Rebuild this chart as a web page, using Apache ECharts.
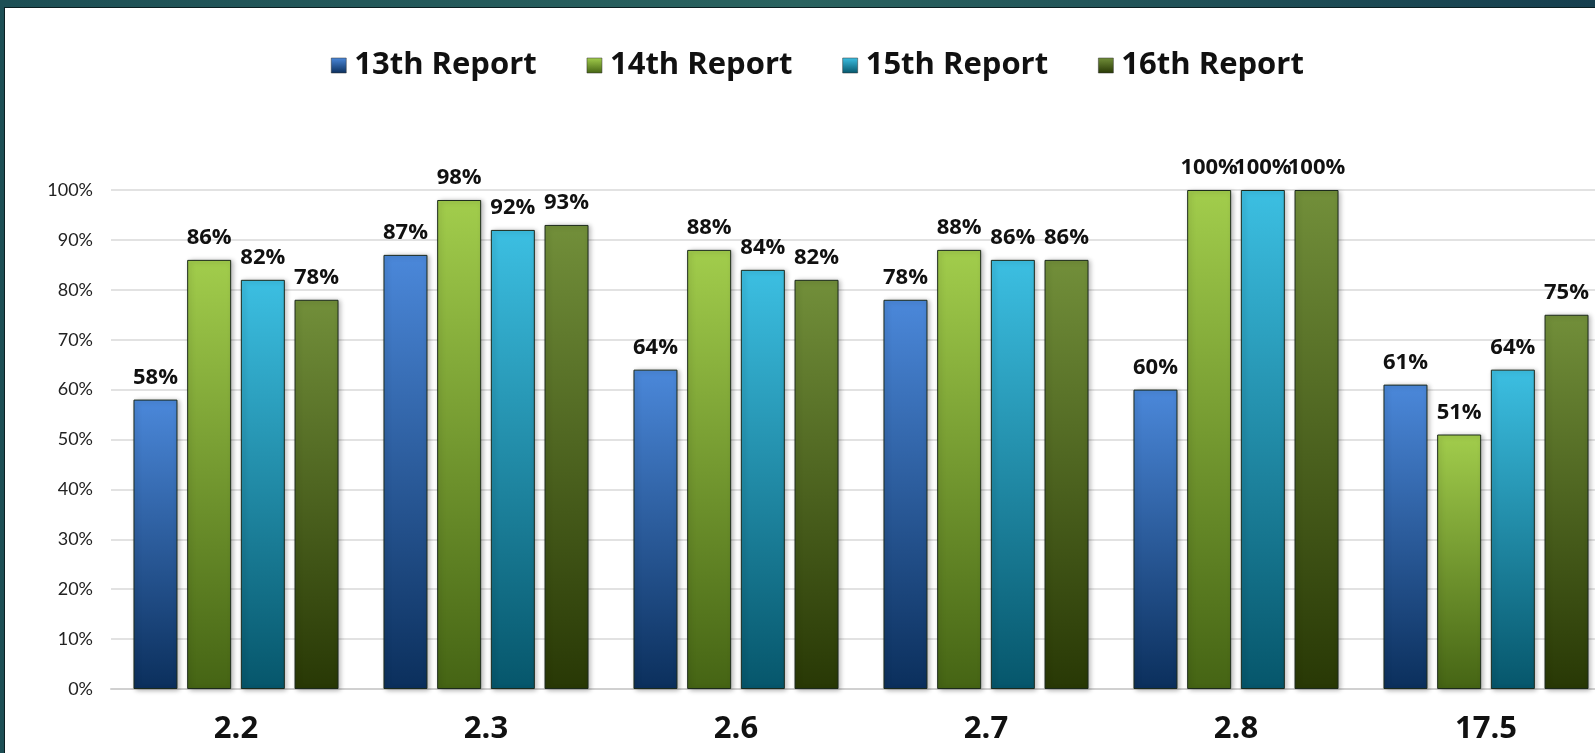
<!DOCTYPE html>
<html>
<head>
<meta charset="utf-8">
<script src="https://cdn.jsdelivr.net/npm/echarts@6/dist/echarts.min.js"></script>
<style>
  * { margin: 0; padding: 0; }
  body {
    width: 1595px; height: 753px; overflow: hidden;
    background: linear-gradient(90deg, #1d4f55 0%, #2a6360 50%, #163f4f 100%);
    position: relative;
  }
  #main {
    position: absolute; left: 4px; top: 7px;
    width: 1591px; height: 746px;
    background: #fff;
    border-top: 1px solid #0b1f22;
    border-left: 1px solid #0b1f22;
    box-sizing: border-box;
  }
</style>
</head>
<body>
<!-- chart container -->
<div id="main"></div>
<script>
var categories = ["2.2", "2.3", "2.6", "2.7", "2.8", "17.5"];
var seriesNames = ["13th Report", "14th Report", "15th Report", "16th Report"];
var report13 = [58, 87, 64, 78, 60, 61];
var report14 = [86, 98, 88, 88, 100, 51];
var report15 = [82, 92, 84, 86, 100, 64];
var report16 = [78, 93, 82, 86, 100, 75];
var yTicks = [0, 10, 20, 30, 40, 50, 60, 70, 80, 90, 100];

// top / bottom colours of each bar gradient
var barColors = [
  ["#4b88da", "#0b2f5c"],
  ["#a2cd4c", "#456414"],
  ["#3cbfe2", "#06566b"],
  ["#728f3a", "#283805"]
];
var seriesData = [report13, report14, report15, report16];

function grad(c) {
  return new echarts.graphic.LinearGradient(0, 0, 0, 1, [
    { offset: 0, color: c[0] },
    { offset: 1, color: c[1] }
  ]);
}

var chart = echarts.init(document.getElementById("main"));
var font = "'Open Sans', 'Noto Sans', sans-serif";

var series = [];
for (var i = 0; i < seriesData.length; i++) {
  series.push({
    name: seriesNames[i],
    type: "bar",
    data: seriesData[i],
    barWidth: 44,
    barGap: "22%",
    itemStyle: {
      color: grad(barColors[i]),
      borderColor: "#1c2a1c",
      borderWidth: 1,
      shadowColor: "rgba(0,0,0,0.3)",
      shadowBlur: 5,
      shadowOffsetX: 2,
      shadowOffsetY: 1
    },
    label: {
      show: true,
      position: "top",
      distance: 11,
      formatter: "{c}%",
      fontFamily: font,
      fontWeight: "bold",
      fontSize: 22,
      color: "#111"
    }
  });
}

chart.setOption({
  animation: false,
  textStyle: { fontFamily: font },
  legend: {
    top: 37,
    left: 321,
    itemWidth: 15,
    itemHeight: 15,
    itemGap: 50,
    icon: "rect",
    itemStyle: { borderColor: "#333", borderWidth: 0.5 },
    textStyle: {
      fontFamily: font,
      fontWeight: "bold",
      fontSize: 31,
      color: "#111",
      padding: [0, 0, 0, 3]
    },
    data: seriesNames
  },
  grid: {
    left: 106,
    top: 182,
    width: 1500,
    height: 499,
    containLabel: false,
    outerBoundsMode: "none"
  },
  xAxis: {
    type: "category",
    data: categories,
    axisTick: { show: false },
    axisLine: { lineStyle: { color: "#d0d0d0", width: 2 } },
    axisLabel: {
      margin: 25,
      fontFamily: font,
      fontWeight: "bold",
      fontSize: 31,
      color: "#111"
    }
  },
  yAxis: {
    type: "value",
    min: yTicks[0],
    max: yTicks[yTicks.length - 1],
    interval: 10,
    axisLine: { show: false },
    axisTick: { show: false },
    axisLabel: {
      margin: 18,
      formatter: "{value}%",
      fontFamily: "Lato, sans-serif",
      fontSize: 18,
      color: "#222"
    },
    splitLine: { lineStyle: { color: "#d9d9d9", width: 1.5 } }
  },
  series: series
});
</script>
</body>
</html>
